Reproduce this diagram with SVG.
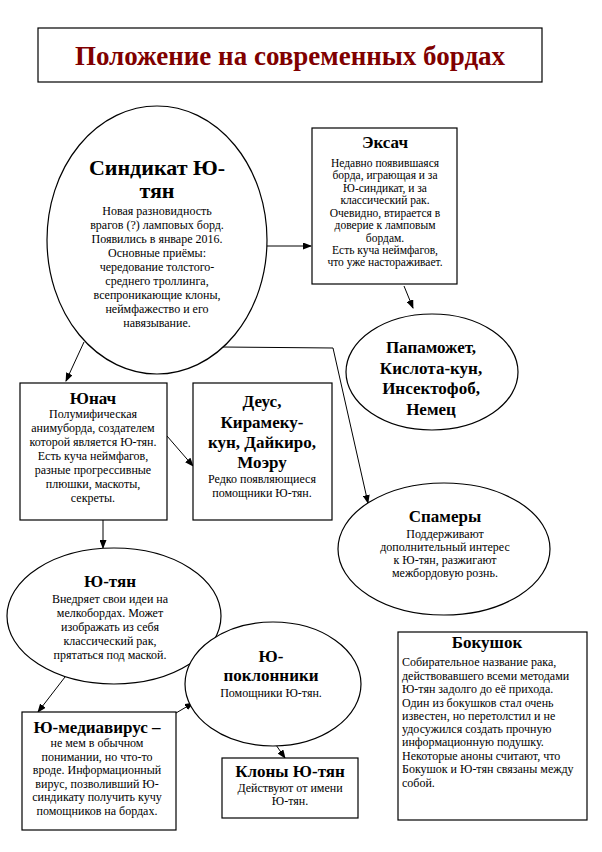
<svg xmlns="http://www.w3.org/2000/svg" width="602" height="852" viewBox="0 0 602 852">
<defs>
<style>
text{font-family:"Liberation Serif","Times New Roman",serif}
.b{fill:#fff;stroke:#000;stroke-width:1.2}
.t{font-size:12px;text-anchor:middle;fill:#000}
.s{font-size:11.5px}
.h{font-size:17px;font-weight:bold;text-anchor:middle;fill:#000}
.l{text-anchor:start}
.c{fill:none;stroke:#000;stroke-width:1}
</style>
<marker id="a" markerWidth="9" markerHeight="7" refX="8" refY="3.5" orient="auto" markerUnits="userSpaceOnUse">
<path d="M0,0 L9,3.5 L0,7 z" fill="#000"/>
</marker>
</defs>
<rect width="602" height="852" fill="#fff"/>
<g id="title">
<rect class="b" x="38" y="28" width="504" height="54"/>
<text x="290" y="65" font-size="27" font-weight="bold" fill="#800000" text-anchor="middle">Положение на современных бордах</text>
</g>
<g id="connectors">
<line class="c" x1="267" y1="246" x2="311" y2="246" marker-end="url(#a)"/>
<line class="c" x1="404" y1="286" x2="413" y2="308" marker-end="url(#a)"/>
<polyline class="c" points="222,347 333,348 368,503" marker-end="url(#a)"/>
<line class="c" x1="84" y1="342" x2="66" y2="381" marker-end="url(#a)"/>
<line class="c" x1="167" y1="436" x2="193" y2="466" marker-end="url(#a)"/>
<line class="c" x1="103" y1="520" x2="103" y2="548" marker-end="url(#a)"/>
<line class="c" x1="65" y1="677" x2="38" y2="712" marker-end="url(#a)"/>
<line class="c" x1="176" y1="713" x2="193" y2="703" marker-end="url(#a)"/>
<line class="c" x1="276" y1="745" x2="285" y2="758" marker-end="url(#a)"/>
</g>
<g id="sindikat">
<ellipse class="b" cx="157" cy="240" rx="110" ry="134"/>
<text class="h" x="157" y="175" style="font-size:22px">Синдикат Ю-</text>
<text class="h" x="157" y="198" style="font-size:22px">тян</text>
<text class="t" x="157" y="215">Новая разновидность</text>
<text class="t" x="157" y="229">врагов (?) ламповых борд.</text>
<text class="t" x="157" y="243">Появились в январе 2016.</text>
<text class="t" x="157" y="257">Основные приёмы:</text>
<text class="t" x="157" y="271">чередование толстого-</text>
<text class="t" x="157" y="285">среднего троллинга,</text>
<text class="t" x="157" y="299">всепроникающие клоны,</text>
<text class="t" x="157" y="313">неймфажество и его</text>
<text class="t" x="157" y="327">навязывание.</text>
</g>
<g id="eksach">
<rect class="b" x="312" y="128" width="145" height="156"/>
<text class="h" x="385" y="148">Эксач</text>
<text class="t s" x="385" y="167">Недавно появившаяся</text>
<text class="t s" x="385" y="179">борда, играющая и за</text>
<text class="t s" x="385" y="192">Ю-синдикат, и за</text>
<text class="t s" x="385" y="204">классический рак.</text>
<text class="t s" x="385" y="217">Очевидно, втирается в</text>
<text class="t s" x="385" y="229">доверие к ламповым</text>
<text class="t s" x="385" y="242">бордам.</text>
<text class="t s" x="385" y="254">Есть куча неймфагов,</text>
<text class="t s" x="385" y="266">что уже настораживает.</text>
</g>
<g id="papamozhet">
<ellipse class="b" cx="432" cy="372" rx="86" ry="58"/>
<text class="h" x="431" y="353">Папаможет,</text>
<text class="h" x="431" y="374">Кислота-кун,</text>
<text class="h" x="431" y="394">Инсектофоб,</text>
<text class="h" x="431" y="415">Немец</text>
</g>
<g id="yunach">
<rect class="b" x="20" y="383" width="147" height="137"/>
<text class="h" x="93" y="404">Юнач</text>
<text class="t" x="93" y="418">Полумифическая</text>
<text class="t" x="93" y="432">анимуборда, создателем</text>
<text class="t" x="93" y="446">которой является Ю-тян.</text>
<text class="t" x="93" y="460">Есть куча неймфагов,</text>
<text class="t" x="93" y="474">разные прогрессивные</text>
<text class="t" x="93" y="488">плюшки, маскоты,</text>
<text class="t" x="93" y="502">секреты.</text>
</g>
<g id="deus">
<rect class="b" x="193" y="383" width="139" height="137"/>
<text class="h" x="262" y="407">Деус,</text>
<text class="h" x="262" y="428">Кирамеку-</text>
<text class="h" x="262" y="448">кун, Дайкиро,</text>
<text class="h" x="262" y="468">Моэру</text>
<text class="t" x="262" y="483">Редко появляющиеся</text>
<text class="t" x="262" y="497">помощники Ю-тян.</text>
</g>
<g id="spamery">
<ellipse class="b" cx="444" cy="549" rx="106" ry="66"/>
<text class="h" x="445" y="522">Спамеры</text>
<text class="t" x="445" y="538">Поддерживают</text>
<text class="t" x="445" y="551">дополнительный интерес</text>
<text class="t" x="445" y="564">к Ю-тян, разжигают</text>
<text class="t" x="445" y="577">межбордовую рознь.</text>
</g>
<g id="yutyan">
<ellipse class="b" cx="114" cy="616" rx="107" ry="68"/>
<text class="h" x="110" y="587">Ю-тян</text>
<text class="t" x="110" y="603">Внедряет свои идеи на</text>
<text class="t" x="110" y="617">мелкобордах. Может</text>
<text class="t" x="110" y="631">изображать из себя</text>
<text class="t" x="110" y="645">классический рак,</text>
<text class="t" x="110" y="659">прятаться под маской.</text>
</g>
<g id="poklonniki">
<ellipse class="b" cx="273" cy="684" rx="88" ry="62"/>
<text class="h" x="271" y="662">Ю-</text>
<text class="h" x="271" y="681">поклонники</text>
<text class="t" x="271" y="697">Помощники Ю-тян.</text>
</g>
<g id="mediavirus">
<rect class="b" x="22" y="712" width="154" height="118"/>
<text class="h" x="97" y="733">Ю-медиавирус –</text>
<text class="t" x="97" y="747">не мем в обычном</text>
<text class="t" x="97" y="761">понимании, но что-то</text>
<text class="t" x="97" y="774">вроде. Информационный</text>
<text class="t" x="97" y="788">вирус, позволивший Ю-</text>
<text class="t" x="97" y="801">синдикату получить кучу</text>
<text class="t" x="97" y="815">помощников на бордах.</text>
</g>
<g id="klony">
<rect class="b" x="222" y="758" width="136" height="60"/>
<text class="h" x="290" y="777">Клоны Ю-тян</text>
<text class="t" x="290" y="792">Действуют от имени</text>
<text class="t" x="290" y="805">Ю-тян.</text>
</g>
<g id="bokushok">
<rect class="b" x="398" y="632" width="189" height="188"/>
<text class="h" x="487" y="648">Бокушок</text>
<text class="t l" x="402" y="666">Собирательное название рака,</text>
<text class="t l" x="402" y="680">действовавшего всеми методами</text>
<text class="t l" x="402" y="693">Ю-тян задолго до её прихода.</text>
<text class="t l" x="402" y="707">Один из бокушков стал очень</text>
<text class="t l" x="402" y="720">известен, но перетолстил и не</text>
<text class="t l" x="402" y="733">удосужился создать прочную</text>
<text class="t l" x="402" y="746">информационную подушку.</text>
<text class="t l" x="402" y="760">Некоторые аноны считают, что</text>
<text class="t l" x="402" y="773">Бокушок и Ю-тян связаны между</text>
<text class="t l" x="402" y="787">собой.</text>
</g>
</svg>
